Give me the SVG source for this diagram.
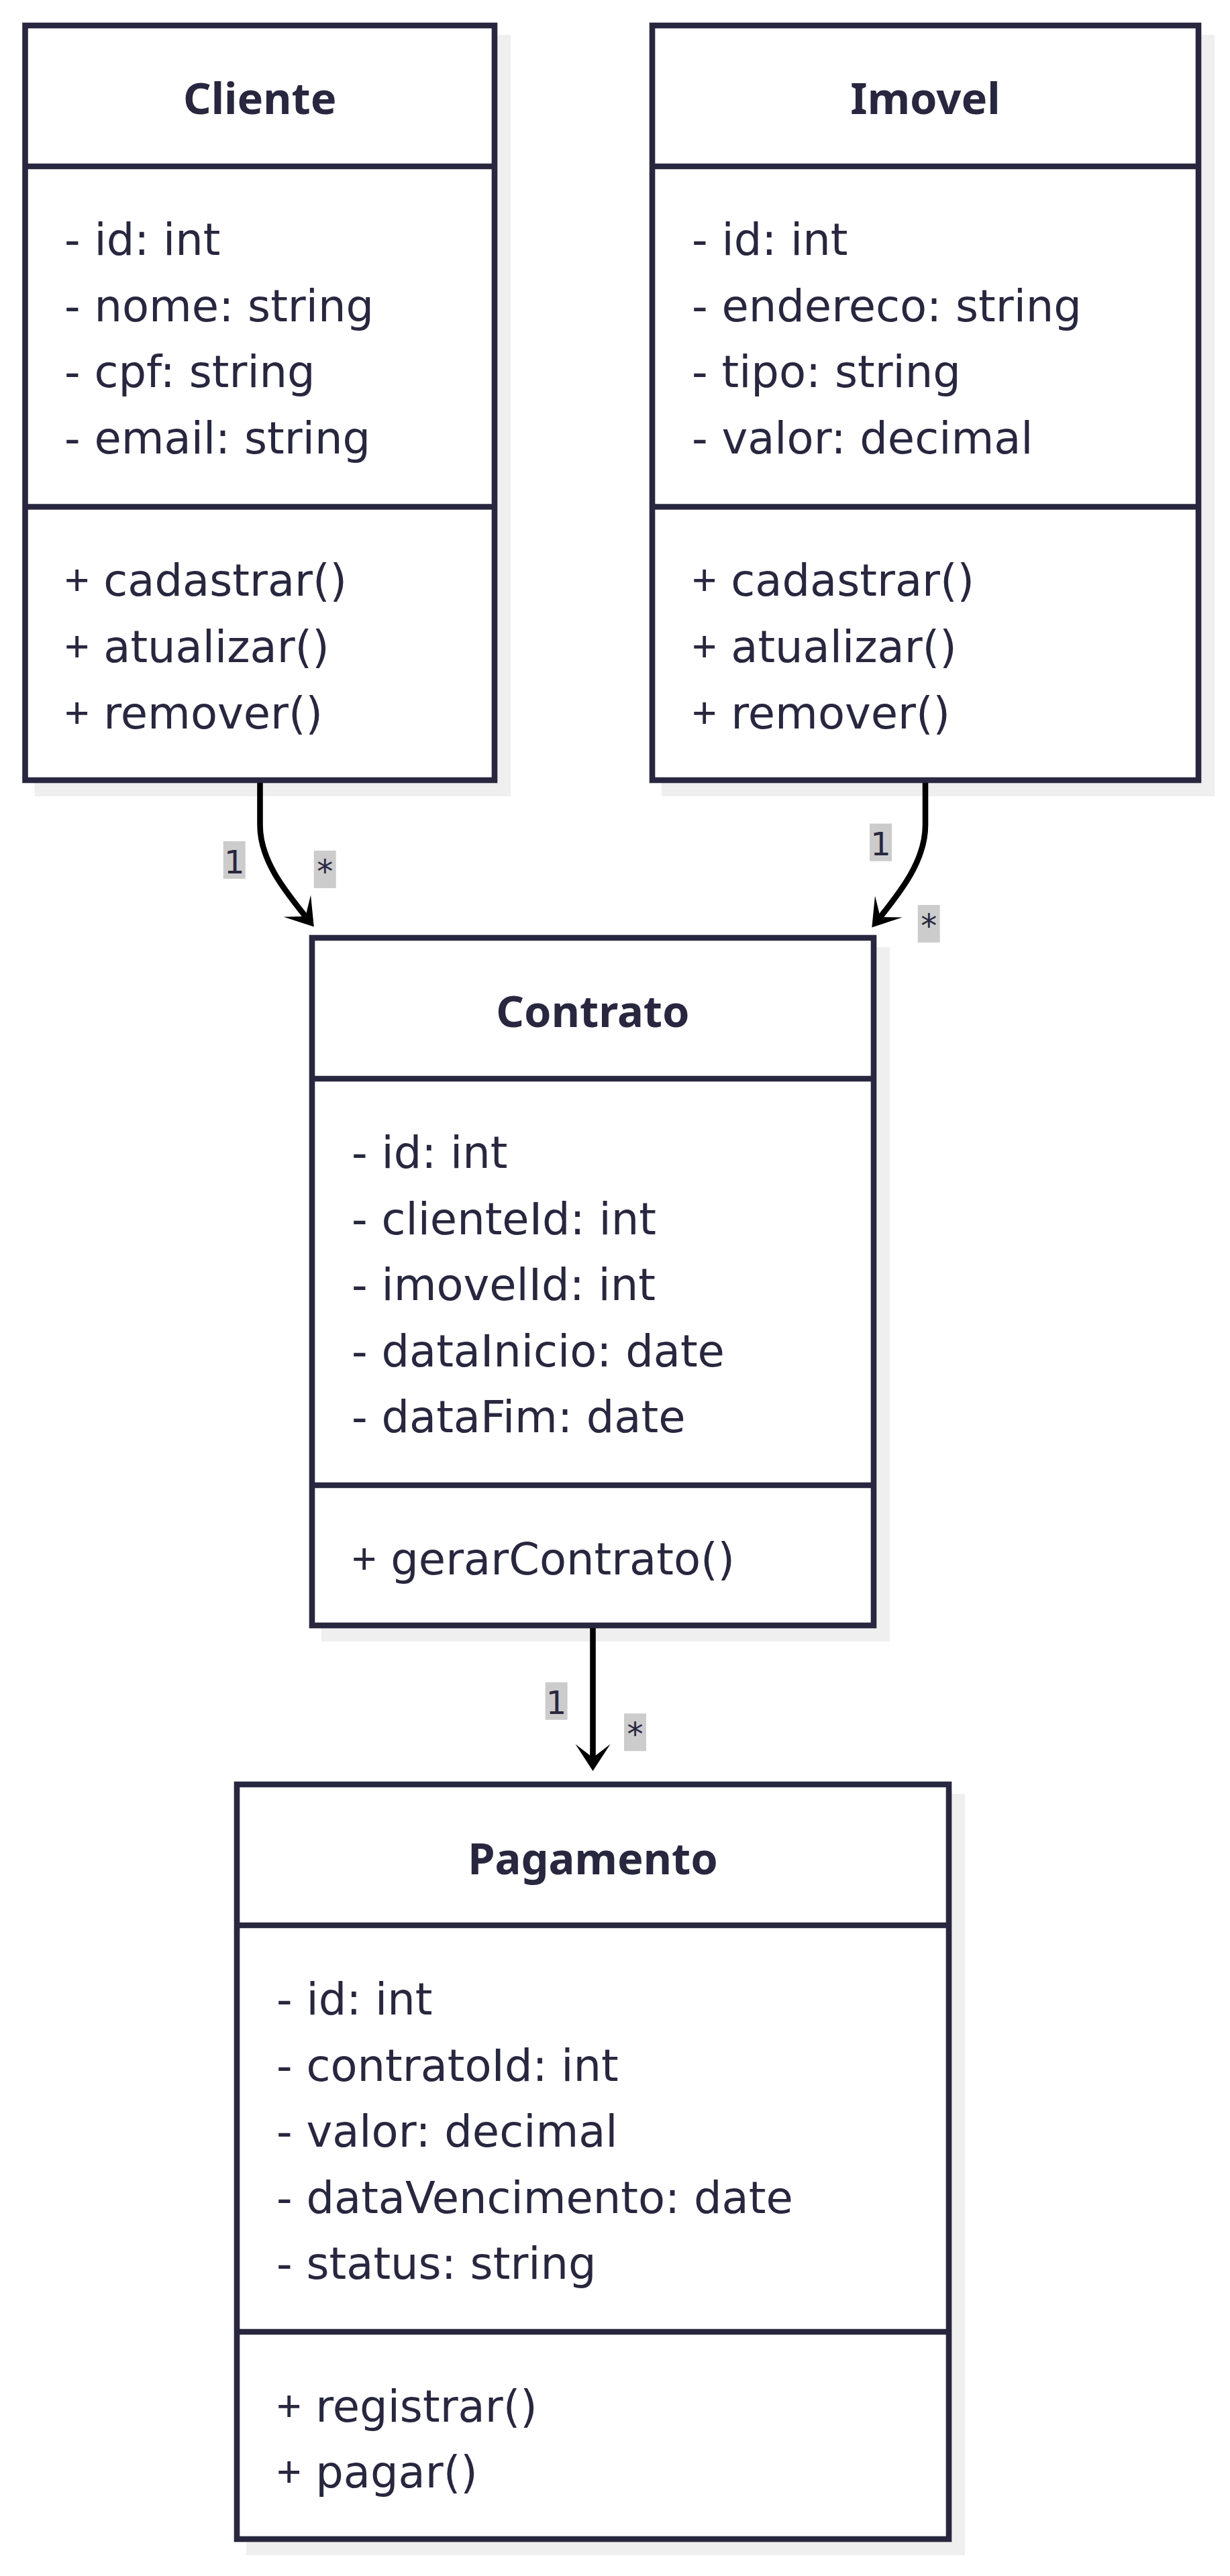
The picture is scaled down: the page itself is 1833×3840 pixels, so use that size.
<svg xmlns="http://www.w3.org/2000/svg" width="1833" height="3840" viewBox="0 0 1833 3840">
<style>
.shadow{fill:#efefef;stroke:none}
.box{fill:#ffffff;stroke:#28273f;stroke-width:8.6}
.div{stroke:#28273f;stroke-width:8.6}
.title{font-family:"Noto Sans","Open Sans",sans-serif;font-weight:700;font-size:65px;fill:#28273f;text-anchor:middle}
.member{font-family:"DejaVu Sans",sans-serif;font-size:65.5px;fill:#28273f}
.plus{font-family:"Noto Sans","Open Sans",sans-serif}
.edge{fill:none;stroke:#000000;stroke-width:8.6}
.lblbg{fill:#cccccc}
.lbl{font-family:"DejaVu Sans",sans-serif;font-size:48px;fill:#28273f;text-anchor:middle}
</style>
<defs>
<marker id="arrow" markerUnits="userSpaceOnUse" markerWidth="44" markerHeight="56" viewBox="-2 -28 44 56" refX="20" refY="0" orient="auto">
<path d="M 40 0 L 0 26 L 20 0 L 0 -26 Z" fill="#000000"/>
</marker>
</defs>
<rect width="1833" height="3840" fill="#ffffff"/>

<g id="Cliente">
<rect class="shadow" x="51.5" y="52" width="709.5" height="1135"/>
<rect class="box" x="37.5" y="38" width="699.5" height="1125"/>
<line class="div" x1="37.5" y1="248" x2="737" y2="248"/>
<line class="div" x1="37.5" y1="755.5" x2="737" y2="755.5"/>
<text class="title" x="387.25" y="170">Cliente</text>
<text class="member" x="96" y="380">- id: int</text>
<text class="member" x="96" y="479">- nome: string</text>
<text class="member" x="96" y="577">- cpf: string</text>
<text class="member" x="96" y="676">- email: string</text>
<text class="member" x="96" y="888"><tspan class="plus">+</tspan> cadastrar()</text>
<text class="member" x="96" y="987"><tspan class="plus">+</tspan> atualizar()</text>
<text class="member" x="96" y="1086"><tspan class="plus">+</tspan> remover()</text>
</g>

<g id="Imovel">
<rect class="shadow" x="986" y="52" width="824" height="1135"/>
<rect class="box" x="972" y="38" width="814" height="1125"/>
<line class="div" x1="972" y1="248" x2="1786" y2="248"/>
<line class="div" x1="972" y1="755.5" x2="1786" y2="755.5"/>
<text class="title" x="1379" y="170">Imovel</text>
<text class="member" x="1031" y="380">- id: int</text>
<text class="member" x="1031" y="479">- endereco: string</text>
<text class="member" x="1031" y="577">- tipo: string</text>
<text class="member" x="1031" y="676">- valor: decimal</text>
<text class="member" x="1031" y="888"><tspan class="plus">+</tspan> cadastrar()</text>
<text class="member" x="1031" y="987"><tspan class="plus">+</tspan> atualizar()</text>
<text class="member" x="1031" y="1086"><tspan class="plus">+</tspan> remover()</text>
</g>

<g id="Contrato">
<rect class="shadow" x="479" y="1412" width="847" height="1035"/>
<rect class="box" x="465" y="1398" width="837" height="1025"/>
<line class="div" x1="465" y1="1608" x2="1302" y2="1608"/>
<line class="div" x1="465" y1="2214" x2="1302" y2="2214"/>
<text class="title" x="883.5" y="1531">Contrato</text>
<text class="member" x="524" y="1741">- id: int</text>
<text class="member" x="524" y="1840">- clienteId: int</text>
<text class="member" x="524" y="1938">- imovelId: int</text>
<text class="member" x="524" y="2037">- dataInicio: date</text>
<text class="member" x="524" y="2135">- dataFim: date</text>
<text class="member" x="524" y="2347"><tspan class="plus">+</tspan> gerarContrato()</text>
</g>

<g id="Pagamento">
<rect class="shadow" x="367" y="2674" width="1071" height="1135"/>
<rect class="box" x="353" y="2660" width="1061" height="1125"/>
<line class="div" x1="353" y1="2870" x2="1414" y2="2870"/>
<line class="div" x1="353" y1="3476" x2="1414" y2="3476"/>
<text class="title" x="883.5" y="2794">Pagamento</text>
<text class="member" x="412" y="3003">- id: int</text>
<text class="member" x="412" y="3102">- contratoId: int</text>
<text class="member" x="412" y="3200">- valor: decimal</text>
<text class="member" x="412" y="3299">- dataVencimento: date</text>
<text class="member" x="412" y="3397">- status: string</text>
<text class="member" x="412" y="3610"><tspan class="plus">+</tspan> registrar()</text>
<text class="member" x="412" y="3708"><tspan class="plus">+</tspan> pagar()</text>
</g>

<g id="connectors">
<path class="edge" marker-end="url(#arrow)" d="M 387.5 1167 L 387.5 1230 C 387.5 1282 424 1327 455.3 1366"/>
<path class="edge" marker-end="url(#arrow)" d="M 1379 1167 L 1379 1230 C 1379 1282 1343 1328 1311.8 1367"/>
<path class="edge" marker-end="url(#arrow)" d="M 883.5 2427 L 883.5 2620"/>
<rect class="lblbg" x="332.7" y="1254" width="33" height="56"/>
<text class="lbl" x="349.2" y="1301.7">1</text>
<rect class="lblbg" x="467.7" y="1268" width="33" height="56"/>
<text class="lbl" x="484.2" y="1315.7">*</text>
<rect class="lblbg" x="1296" y="1227.7" width="33" height="56"/>
<text class="lbl" x="1312.5" y="1275.4">1</text>
<rect class="lblbg" x="1367.7" y="1349" width="33" height="56"/>
<text class="lbl" x="1384.2" y="1396.7">*</text>
<rect class="lblbg" x="812.6" y="2507.7" width="33" height="56"/>
<text class="lbl" x="829.1" y="2555.4">1</text>
<rect class="lblbg" x="930" y="2554.3" width="33" height="56"/>
<text class="lbl" x="946.5" y="2602">*</text>
</g>
</svg>
